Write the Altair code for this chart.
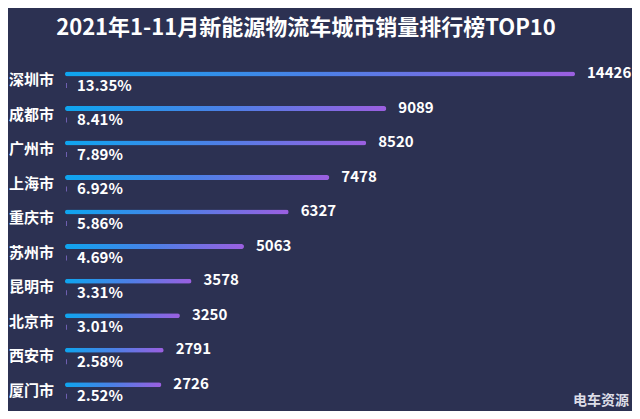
import altair as alt
import pandas as pd

# ---- data ----
cities = ["深圳市", "成都市", "广州市", "上海市", "重庆市", "苏州市", "昆明市", "北京市", "西安市", "厦门市"]
sales = [14426, 9089, 8520, 7478, 6327, 5063, 3578, 3250, 2791, 2726]
shares = ["13.35%", "8.41%", "7.89%", "6.92%", "5.86%", "4.69%", "3.31%", "3.01%", "2.58%", "2.52%"]
title_text = "2021年1-11月新能源物流车城市销量排行榜TOP10"
watermark_text = "电车资源"

df = pd.DataFrame({"city": cities, "sales": sales, "share": shares})

FONT = "Noto Sans CJK SC"
BG = "#2c3152"

x_scale = alt.Scale(domain=[0, 14426], range=[57, 567], nice=False, zero=True)
y_scale = alt.Scale(type="point", domain=cities, range=[66, 376.7], padding=0)

X = alt.X("sales:Q", scale=x_scale, axis=None)
X0 = alt.X(datum=0, type="quantitative", scale=x_scale, axis=None)
Y = alt.Y("city:N", scale=y_scale, axis=None, sort=cities)

grad = alt.Gradient(
    gradient="linear",
    stops=[
        alt.GradientStop(color="#0ea5ef", offset=0),
        alt.GradientStop(color="#4c80e6", offset=0.5),
        alt.GradientStop(color="#9b5fe0", offset=1),
    ],
    x1=0, x2=1, y1=0, y2=0,
)

base = alt.Chart(df)

bars = base.mark_bar(height=5, cornerRadius=2.5, color=grad).encode(x=X, y=Y)

ticks = base.mark_tick(size=5, thickness=1, color="#8a72d8", yOffset=11.5, xOffset=1.5).encode(x=X0, y=Y)

city_lbl = base.mark_text(
    align="right", baseline="middle", dx=-11, dy=6,
    fontSize=15, fontWeight="bold", font=FONT, color="#ffffff",
).encode(x=X0, y=Y, text="city:N")

val_lbl = base.mark_text(
    align="left", baseline="middle", dx=12, dy=-1,
    fontSize=15, fontWeight="bold", font=FONT, color="#ffffff",
).encode(x=X, y=Y, text="sales:Q")

pct_lbl = base.mark_text(
    align="left", baseline="middle", dx=12, dy=11.5,
    fontSize=15, fontWeight="bold", font=FONT, color="#ffffff",
).encode(x=X0, y=Y, text="share:N")

title = alt.Chart(pd.DataFrame({"t": [title_text]})).mark_text(
    align="center", baseline="middle", fontSize=22, fontWeight="bold", font=FONT, color="#ffffff",
).encode(x=alt.value(298), y=alt.value(20), text="t:N")

wm = alt.Chart(pd.DataFrame({"t": [watermark_text]})).mark_text(
    align="right", baseline="middle", fontSize=14, fontWeight="bold", font=FONT, color="#dcdce6",
).encode(x=alt.value(621), y=alt.value(393), text="t:N")

chart = alt.layer(bars, ticks, city_lbl, val_lbl, pct_lbl, title, wm).properties(
    width=624, height=403, background=BG, padding=0,
    autosize=alt.AutoSizeParams(type="none"),
).configure_view(stroke=None)

chart.save("out.html", embed_options={"renderer": "svg", "actions": False})
